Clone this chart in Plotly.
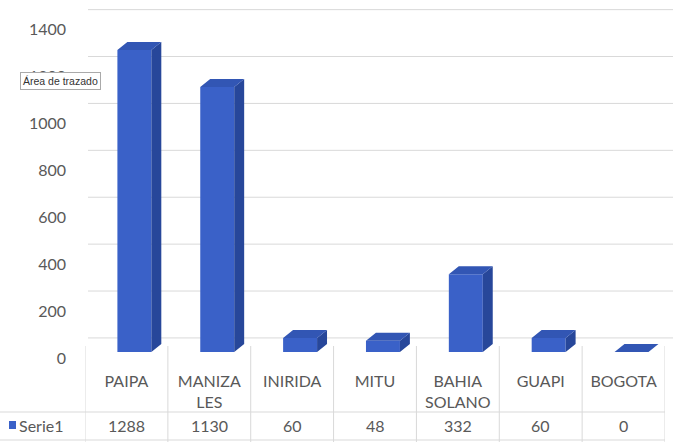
import plotly.graph_objects as go

# ---- data ----
categories = ["PAIPA", "MANIZALES", "INIRIDA", "MITU", "BAHIA SOLANO", "GUAPI", "BOGOTA"]
tick_labels = ["PAIPA", "MANIZA<br>LES", "INIRIDA", "MITU", "BAHIA<br>SOLANO", "GUAPI", "BOGOTA"]
values = [1288, 1130, 60, 48, 332, 60, 0]
series_name = "Serie1"
y_ticks = [0, 200, 400, 600, 800, 1000, 1200, 1400]

# ---- geometry / style ----
W, H = 673, 442

def px(x):
    return x / W
def py(y):
    return 1 - y / H

X0, X1 = 85, 665          # category area in pixels
Y_ZERO_PX = 352           # pixel row of value 0 (bar bottoms)
PX_PER_UNIT = 0.2345
Y_MAX = Y_ZERO_PX / PX_PER_UNIT
BAR_W = 0.41
BAR_OFF = -0.109
DX = 0.12                 # 3D depth in x (category units)
DY = 34                   # 3D depth in y (value units)
GRID_SHIFT = 60           # back wall gridline shift (value units)

FRONT = "#3a61c8"
TOP = "#3256b4"
SIDE = "#27479a"
TXT = "#595959"
GRID = "#d9d9d9"
FONT = "Lato"

xs = list(range(len(categories)))

fig = go.Figure()

# front faces
fig.add_trace(go.Bar(
    x=xs, y=values, width=BAR_W, offset=BAR_OFF,
    marker=dict(color=FRONT, line=dict(width=0)),
    name=series_name, showlegend=False, hoverinfo="skip"))

# top and side faces built from the data values
top_x, top_y, side_x, side_y = [], [], [], []
for i, v in zip(xs, values):
    xl = i + BAR_OFF
    xr = xl + BAR_W
    top_x += [xl, xr, xr + DX, xl + DX, xl, None]
    top_y += [v, v, v + DY, v + DY, v, None]
    side_x += [xr, xr + DX, xr + DX, xr, xr, None]
    side_y += [0, DY, v + DY, v, 0, None]

fig.add_trace(go.Scatter(x=side_x, y=side_y, mode="lines", fill="toself",
                         fillcolor=SIDE, line=dict(width=0, color=SIDE),
                         showlegend=False, hoverinfo="skip"))
fig.add_trace(go.Scatter(x=top_x, y=top_y, mode="lines", fill="toself",
                         fillcolor=TOP, line=dict(width=0, color=TOP),
                         showlegend=False, hoverinfo="skip"))

shapes = []
# back-wall gridlines
for t in y_ticks:
    shapes.append(dict(type="line", xref="paper", yref="y",
                       x0=px(88), x1=1, y0=t + GRID_SHIFT, y1=t + GRID_SHIFT,
                       line=dict(color=GRID, width=1), layer="below"))

# data table lines
for k in range(len(categories) + 1):
    shapes.append(dict(type="line", xref="x", yref="paper",
                       x0=k - 0.5, x1=k - 0.5, y0=py(346), y1=0,
                       line=dict(color=GRID, width=1)))
shapes.append(dict(type="line", xref="paper", yref="paper",
                   x0=0, x1=px(X1), y0=py(412), y1=py(412),
                   line=dict(color=GRID, width=1)))
shapes.append(dict(type="line", xref="paper", yref="paper",
                   x0=0, x1=px(X1), y0=py(440), y1=py(440),
                   line=dict(color=GRID, width=1)))
# legend key
shapes.append(dict(type="rect", xref="paper", yref="paper",
                   x0=px(9), x1=px(16), y0=py(429), y1=py(421),
                   fillcolor=FRONT, line=dict(width=0)))

annotations = []
for i, v in zip(xs, values):
    annotations.append(dict(x=i, xref="x", y=py(425), yref="paper",
                            text=str(v), showarrow=False,
                            font=dict(family=FONT, size=16, color=TXT),
                            xanchor="center", yanchor="middle"))
annotations.append(dict(x=px(17), xref="paper", y=py(425), yref="paper",
                        text=series_name, showarrow=False,
                        font=dict(family=FONT, size=16, color=TXT),
                        xanchor="left", yanchor="middle"))
# tooltip seen in the screenshot
annotations.append(dict(x=px(20), xref="paper", y=py(81), yref="paper",
                        text="Área de trazado", showarrow=False,
                        font=dict(family="Liberation Sans", size=10.5, color="#333333"),
                        bgcolor="white", bordercolor="#aaaaaa", borderwidth=1,
                        borderpad=2, xanchor="left", yanchor="middle"))

fig.update_layout(
    template="none",
    width=W, height=H, autosize=False,
    margin=dict(l=0, r=0, t=0, b=0, pad=0, autoexpand=False),
    paper_bgcolor="white", plot_bgcolor="rgba(0,0,0,0)",
    showlegend=False,
    shapes=shapes, annotations=annotations,
    xaxis=dict(domain=[px(X0), px(X1)], range=[-0.5, len(categories) - 0.5],
               tickvals=xs, ticktext=tick_labels, showgrid=False, zeroline=False,
               showline=False, ticks="", ticklabelstandoff=18, automargin=False,
               tickfont=dict(family=FONT, size=16, color=TXT), fixedrange=True),
    yaxis=dict(domain=[py(Y_ZERO_PX), 1], range=[0, Y_MAX],
               tickvals=y_ticks, ticktext=[str(t) for t in y_ticks],
               showgrid=False, zeroline=False, showline=False, ticks="",
               ticklabelshift=6, ticklabelstandoff=18, automargin=False,
               tickfont=dict(family=FONT, size=16, color=TXT), fixedrange=True),
)

fig.write_html("out.html", config={"displayModeBar": False},
               post_script="document.body.style.margin='0';"
                           "document.body.style.overflow='hidden';")
